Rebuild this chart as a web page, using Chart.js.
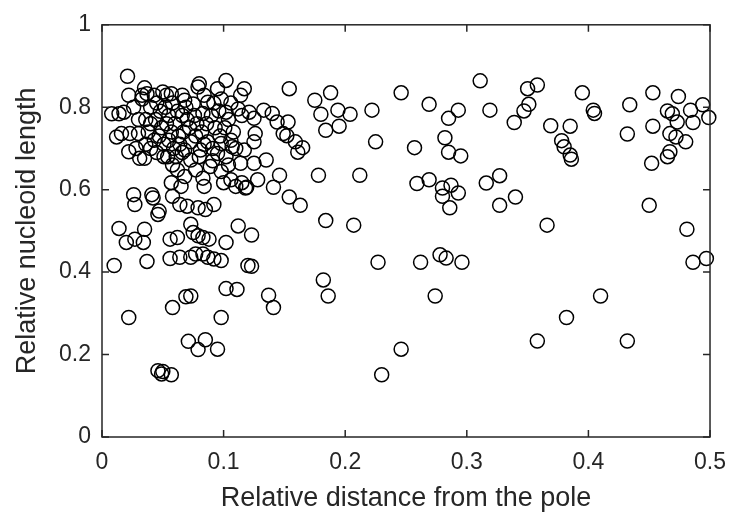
<!DOCTYPE html>
<html>
<head>
<meta charset="utf-8">
<script src="https://cdn.jsdelivr.net/npm/chart.js@4"></script>
<style>
html,body{margin:0;padding:0;background:#fff;}
#wrap{width:738px;height:523px;position:relative;}
</style>
</head>
<body>
<div id="wrap"><canvas id="c" width="738" height="523"></canvas></div>
<script>
// Relative distance from the pole (x) and relative nucleoid length (y)
const distance = [
  0.311,0.319,0.339,0.347,0.351,0.350,0.358,0.395,0.404,0.405,
  0.434,0.432,0.453,0.453,0.452,0.465,0.467,0.474,0.465,0.469,
  0.473,0.467,0.472,0.480,0.484,0.486,0.494,0.499,0.316,0.327,
  0.327,0.340,0.450,0.369,0.385,0.378,0.380,0.385,0.386,0.366,
  0.481,0.486,0.497,0.410,0.382,0.358,0.432,
  0.184,0.207,0.123,0.123,0.137,0.141,0.182,0.186,0.227,0.262,
  0.278,0.283,0.296,0.274,0.246,0.230,0.154,0.175,0.188,0.180,
  0.194,0.204,0.184,0.195,0.222,0.246,0.269,0.293,0.285,0.225,
  0.257,0.282,0.285,0.295,0.178,0.212,0.259,0.269,0.280,0.287,
  0.293,0.280,0.286,
  0.133,0.140,0.144,0.153,0.149,0.152,0.159,0.165,0.161,0.126,
  0.125,0.125,0.121,0.135,0.125,0.128,0.146,0.141,0.154,0.163,
  0.119,0.117,
  0.021,0.022,0.035,0.008,0.014,0.018,0.016,0.023,0.030,0.012,
  0.022,0.031,0.035,0.026,0.027,0.041,0.042,0.047,0.057,0.058,
  0.051,
  0.014,0.020,0.027,0.034,0.035,0.010,0.037,0.056,0.056,0.046,
  0.073,0.112,0.062,0.075,0.079,0.083,0.088,0.102,0.073,0.077,
  0.083,0.087,0.092,0.098,0.064,0.120,
  0.022,0.058,0.069,0.073,0.102,0.111,0.098,0.071,0.085,0.079,
  0.095,0.046,0.050,0.049,0.057,
  0.102,0.080,0.079,0.095,0.066,0.084,0.114,0.096,0.102,0.112,
  0.115,0.076,0.083,0.068,0.075,0.087,
  0.117,0.114,0.115,0.110,0.118,0.084,0.083,0.100,0.106,0.062,
  0.065,0.068,0.064,0.070,0.079,0.085,0.092,0.068,0.081,0.095,
  0.102,0.107,0.073,0.087,0.098,0.061,0.073,0.089,0.098,0.077,
  0.033,0.037,0.043,0.050,0.053,0.057,
  0.033,0.040,0.045,0.048,0.052,0.055,0.058,0.062,0.036,0.040,
  0.044,0.049,0.053,0.057,0.060,0.063,0.038,0.043,0.047,0.051,
  0.055,0.059,0.064,0.067,0.070,0.072,0.066,0.069,0.078,0.082,
  0.086,0.090,0.093,0.097,0.101,0.104,0.108,0.077,0.084,0.091,
  0.106,0.110,0.045,0.040,0.054,0.058,0.066,0.080,0.091,0.104,
  0.028,0.036,0.030,0.026,0.092,0.098,0.106
];
const nucleoidLength = [
  0.864,0.793,0.763,0.791,0.807,0.845,0.854,0.835,0.793,0.785,
  0.806,0.735,0.835,0.754,0.664,0.680,0.692,0.826,0.791,0.784,
  0.764,0.736,0.728,0.716,0.793,0.763,0.806,0.775,0.616,0.634,
  0.562,0.582,0.562,0.755,0.754,0.719,0.704,0.684,0.674,0.514,
  0.504,0.424,0.433,0.342,0.290,0.233,0.233,
  0.525,0.514,0.490,0.414,0.344,0.314,0.381,0.342,0.424,0.424,
  0.442,0.434,0.424,0.342,0.213,0.151,0.845,0.817,0.835,0.783,
  0.793,0.783,0.744,0.754,0.793,0.835,0.807,0.793,0.773,0.716,
  0.702,0.726,0.691,0.682,0.635,0.635,0.615,0.624,0.604,0.611,
  0.592,0.584,0.556,
  0.793,0.785,0.764,0.764,0.736,0.731,0.716,0.702,0.691,0.736,
  0.716,0.773,0.788,0.672,0.664,0.624,0.635,0.606,0.582,0.562,
  0.606,0.845,
  0.875,0.829,0.847,0.784,0.784,0.788,0.736,0.736,0.736,0.728,
  0.692,0.676,0.676,0.588,0.564,0.588,0.580,0.548,0.617,0.584,
  0.680,
  0.506,0.472,0.480,0.472,0.504,0.416,0.426,0.480,0.433,0.540,
  0.516,0.512,0.484,0.496,0.488,0.484,0.480,0.472,0.436,0.444,
  0.444,0.436,0.432,0.428,0.436,0.416,
  0.290,0.314,0.340,0.342,0.360,0.358,0.290,0.232,0.236,0.212,
  0.213,0.161,0.159,0.153,0.151,
  0.865,0.857,0.849,0.845,0.829,0.829,0.829,0.791,0.788,0.796,
  0.780,0.780,0.785,0.817,0.808,0.812,
  0.696,0.664,0.617,0.608,0.604,0.608,0.628,0.617,0.624,0.648,
  0.608,0.632,0.564,0.560,0.556,0.552,0.564,0.696,0.696,0.688,
  0.680,0.704,0.716,0.716,0.712,0.680,0.672,0.656,0.644,0.648,
  0.829,0.833,0.829,0.837,0.829,0.833,
  0.820,0.800,0.810,0.790,0.800,0.780,0.810,0.790,0.770,0.760,
  0.770,0.750,0.760,0.740,0.760,0.730,0.740,0.720,0.730,0.710,
  0.720,0.700,0.710,0.740,0.770,0.750,0.780,0.800,0.760,0.740,
  0.760,0.780,0.750,0.730,0.750,0.770,0.740,0.730,0.710,0.700,
  0.720,0.700,0.690,0.700,0.680,0.660,0.690,0.680,0.670,0.660,
  0.700,0.710,0.770,0.800,0.810,0.820,0.810
];
const xTicks = [0, 0.1, 0.2, 0.3, 0.4, 0.5];
const yTicks = [0, 0.2, 0.4, 0.6, 0.8, 1];
const xTitle = 'Relative distance from the pole';
const yTitle = 'Relative nucleoid length';

const points = distance.map((x, i) => ({x: x, y: nucleoidLength[i]}));
const INK = '#262626';
const FONT = "'Liberation Sans', Arial, Helvetica, sans-serif";

const frameTicks = {
  id: 'frameTicks',
  afterDatasetsDraw(chart) {
    const {ctx, chartArea: a, scales: {x, y}} = chart;
    ctx.save();
    ctx.strokeStyle = INK;
    ctx.lineWidth = 1.5;
    ctx.strokeRect(a.left, a.top, a.right - a.left, a.bottom - a.top);
    const L = 7;
    ctx.beginPath();
    xTicks.forEach(v => {
      const p = x.getPixelForValue(v);
      ctx.moveTo(p, a.bottom); ctx.lineTo(p, a.bottom - L);
      ctx.moveTo(p, a.top); ctx.lineTo(p, a.top + L);
    });
    yTicks.forEach(v => {
      const p = y.getPixelForValue(v);
      ctx.moveTo(a.left, p); ctx.lineTo(a.left + L, p);
      ctx.moveTo(a.right, p); ctx.lineTo(a.right - L, p);
    });
    ctx.stroke();
    ctx.restore();
  }
};

new Chart(document.getElementById('c'), {
  type: 'scatter',
  data: {
    datasets: [{
      data: points,
      pointStyle: 'circle',
      pointRadius: 7,
      pointHoverRadius: 7,
      pointBorderWidth: 1.5,
      pointBorderColor: '#000',
      pointBackgroundColor: 'rgba(0,0,0,0)',
      clip: false
    }]
  },
  options: {
    responsive: false,
    animation: false,
    events: [],
    layout: {padding: {top: 20, right: 22, left: 0, bottom: 0}},
    plugins: {legend: {display: false}, tooltip: {enabled: false}},
    scales: {
      x: {
        type: 'linear', min: 0, max: 0.5,
        afterBuildTicks: s => { s.ticks = xTicks.map(v => ({value: v})); },
        afterFit: s => { s.height = 523 - 437; },
        grid: {display: false, drawTicks: false},
        border: {display: false},
        ticks: {
          color: INK, padding: 12,
          font: {family: FONT, size: 23},
          callback: v => String(+v.toFixed(1))
        },
        title: {
          display: true, text: xTitle, color: INK,
          font: {family: FONT, size: 27},
          padding: {top: 0, bottom: 8}
        }
      },
      y: {
        type: 'linear', min: 0, max: 1,
        afterBuildTicks: s => { s.ticks = yTicks.map(v => ({value: v})); },
        afterFit: s => { s.width = 102; },
        grid: {display: false, drawTicks: false},
        border: {display: false},
        ticks: {
          color: INK, padding: 11,
          font: {family: FONT, size: 23},
          callback: v => String(+v.toFixed(1))
        },
        title: {
          display: true, text: yTitle, color: INK,
          font: {family: FONT, size: 27},
          padding: {top: 11, bottom: 0}
        }
      }
    }
  },
  plugins: [frameTicks]
});
</script>
</body>
</html>
